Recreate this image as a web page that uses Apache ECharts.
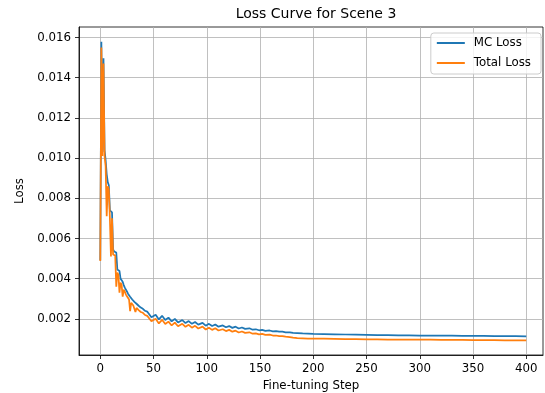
<!DOCTYPE html>
<html>
<head>
<meta charset="utf-8">
<script src="https://cdn.jsdelivr.net/npm/echarts@6/dist/echarts.min.js"></script>
<style>
html,body{margin:0;padding:0;background:#fff;}
#chart{width:545px;height:393px;}
</style>
</head>
<body>
<div id="chart"></div>
<script>
const steps = [
  0,1,2,3,4,5,6,7,8,9,10,11,12,13,14,15,16,17,18,19,20,21,22,23,24,25,26,27,28,29,30,
  31,32,33,34,35,36,37,38,39,40,41,42,43,44,
  45,48,52,55,58,61,64,67,70,73,77,80,83,86,89,92,96,99,102,105,108,111,115,118,121,124,
  127,130,133,136,140,143,146,149,152,155,159,162,165,168,171,174,178,181,185,190,195,
  200,210,220,230,240,250,260,270,280,290,300,310,320,330,340,350,360,370,380,390,400
];
const mcLoss = [
  0.00492,0.01578,0.01030,0.01496,0.01040,0.00990,0.00920,0.00880,0.00865,0.00740,
  0.00735,0.00730,0.00545,0.00535,0.00533,0.00530,0.00445,0.00442,0.00438,0.00400,
  0.00392,0.00385,0.00368,0.00355,0.00346,0.00336,0.00325,0.00318,0.00310,0.00302,0.00296,
  0.00290,0.00284,0.00280,0.00275,0.00268,0.00265,0.00262,0.00256,0.00251,0.00250,
  0.00244,0.00240,0.00241,0.00236,
  0.00236,0.00208,0.00220,0.00197,0.00215,0.00194,0.00206,0.00187,0.00200,0.00182,
  0.00194,0.00179,0.00189,0.00175,0.00184,0.00171,0.00180,0.00166,0.00175,0.00164,
  0.00172,0.00161,0.00167,0.00158,0.00164,0.00155,0.00161,0.00152,0.00157,0.00150,
  0.00153,0.00146,0.00148,0.00143,0.00145,0.00140,0.00142,0.00138,0.00139,0.00136,
  0.00136,0.00133,0.00133,0.00130,0.00129,0.00127,0.00126,
  0.00125,0.00124,0.00123,0.00122,0.00121,0.00120,0.00119,0.00119,0.00118,0.00118,
  0.00117,0.00117,0.00116,0.00116,0.00115,0.00115,0.00115,0.00114,0.00114,0.00114,0.00113
];
const totalLoss = [
  0.00488,0.01550,0.01010,0.01470,0.01010,0.00960,0.00710,0.00860,0.00845,0.00700,
  0.00510,0.00700,0.00520,0.00515,0.00515,0.00360,0.00430,0.00420,0.00330,0.00380,
  0.00370,0.00310,0.00345,0.00335,0.00322,0.00312,0.00303,0.00296,0.00238,0.00280,0.00274,
  0.00266,0.00262,0.00234,0.00254,0.00247,0.00243,0.00241,0.00234,0.00229,0.00230,
  0.00223,0.00219,0.00220,0.00215,
  0.00216,0.00188,0.00200,0.00177,0.00195,0.00174,0.00186,0.00167,0.00181,0.00163,
  0.00175,0.00160,0.00170,0.00156,0.00165,0.00152,0.00161,0.00147,0.00156,0.00145,
  0.00153,0.00142,0.00148,0.00139,0.00145,0.00136,0.00141,0.00132,0.00137,0.00130,
  0.00133,0.00126,0.00128,0.00123,0.00125,0.00120,0.00121,0.00117,0.00117,0.00114,
  0.00114,0.00111,0.00109,0.00106,0.00104,0.00103,0.00102,
  0.00101,0.00101,0.00100,0.00099,0.00099,0.00098,0.00098,0.00097,0.00097,0.00096,
  0.00096,0.00096,0.00095,0.00095,0.00095,0.00094,0.00094,0.00094,0.00093,0.00093,0.00093
];
const seriesNames = ['MC Loss', 'Total Loss'];
const xTicks = [0,50,100,150,200,250,300,350,400];
const yTicks = [0.002,0.004,0.006,0.008,0.010,0.012,0.014,0.016];

const FONT = 'DejaVu Sans';
const chart = echarts.init(document.getElementById('chart'), null, {renderer: 'canvas'});
const pairs = (ys) => steps.map((s, i) => [s, ys[i]]);

chart.setOption({
  animation: false,
  backgroundColor: '#ffffff',
  title: {
    text: 'Loss Curve for Scene 3',
    left: 311, top: 2, textAlign: 'center',
    textStyle: {fontFamily: FONT, fontSize: 14, fontWeight: 'normal', color: '#000'}
  },
  legend: {
    data: seriesNames,
    orient: 'vertical',
    right: 4, top: 33,
    padding: [3, 10, 4, 6],
    itemGap: 6,
    itemWidth: 28, itemHeight: 2,
    icon: 'rect',
    backgroundColor: 'rgba(255,255,255,0.8)',
    borderColor: '#cccccc', borderWidth: 1, borderRadius: 3,
    textStyle: {fontFamily: FONT, fontSize: 11.8, color: '#000', lineHeight: 14, padding: [0, 0, 0, 4]}
  },
  grid: {
    left: 79, top: 27, width: 464, height: 328,
    outerBoundsMode: 'none', containLabel: false,
    show: true, borderColor: '#000', borderWidth: 0.8, backgroundColor: 'transparent'
  },
  xAxis: {
    type: 'value', min: -20, max: 415.7,
    name: 'Fine-tuning Step', nameLocation: 'middle', nameGap: 25,
    nameTextStyle: {fontFamily: FONT, fontSize: 11.8, color: '#000'},
    axisLine: {show: true, onZero: false, lineStyle: {color: '#000', width: 0.8}},
    axisTick: {show: true, customValues: xTicks, length: 4, lineStyle: {color: '#000', width: 0.8}},
    axisLabel: {customValues: xTicks, margin: 8, fontFamily: FONT, fontSize: 11.8, color: '#000'},
    splitLine: {show: true, lineStyle: {color: '#b0b0b0', width: 0.8}}
  },
  yAxis: {
    type: 'value', min: 0.0002, max: 0.01652,
    name: 'Loss', nameLocation: 'middle', nameGap: 53, nameRotate: 90,
    nameTextStyle: {fontFamily: FONT, fontSize: 11.8, color: '#000'},
    axisLine: {show: true, onZero: false, lineStyle: {color: '#000', width: 0.8}},
    axisTick: {show: true, customValues: yTicks, length: 4, lineStyle: {color: '#000', width: 0.8}},
    axisLabel: {customValues: yTicks, margin: 8, fontFamily: FONT, fontSize: 11.8, color: '#000',
      formatter: (v) => v.toFixed(3)},
    splitLine: {show: true, lineStyle: {color: '#b0b0b0', width: 0.8}}
  },
  series: [
    {name: seriesNames[0], type: 'line', data: pairs(mcLoss), showSymbol: false, symbol: 'none',
     sampling: null, color: '#1f77b4', lineStyle: {color: '#1f77b4', width: 1.75}, z: 2},
    {name: seriesNames[1], type: 'line', data: pairs(totalLoss), showSymbol: false, symbol: 'none',
     sampling: null, color: '#ff7f0e', lineStyle: {color: '#ff7f0e', width: 1.75}, z: 3}
  ]
});
</script>
</body>
</html>
